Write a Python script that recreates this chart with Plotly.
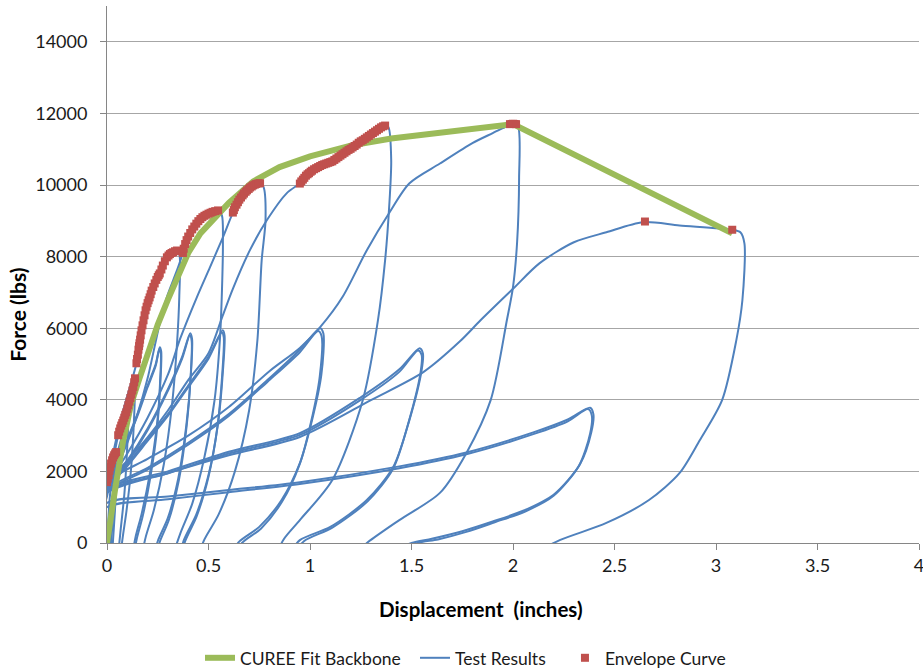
import plotly.graph_objects as go

# ---------------------------------------------------------------------------
# CUREE fit backbone (displacement in inches, force in lbs)
# ---------------------------------------------------------------------------
backbone_disp = [0, 0.02, 0.04, 0.08, 0.12, 0.16, 0.2, 0.25, 0.3, 0.35, 0.4,
                 0.46, 0.53, 0.6, 0.72, 0.85, 1.0, 1.2, 1.4, 1.7, 2.0, 3.08]
backbone_force = [0, 800, 1500, 2870, 3900, 4600, 5300, 6100, 6800, 7500, 8100,
                  8650, 9100, 9500, 10100, 10500, 10800, 11100, 11300, 11500, 11700, 8650]

# ---------------------------------------------------------------------------
# Envelope points picked from the test record
# ---------------------------------------------------------------------------
envelope_disp = [0.0, 0.004, 0.008, 0.012, 0.015, 0.02, 0.025, 0.03, 0.035, 0.04, 0.045,
                 0.055, 0.06, 0.065, 0.07, 0.075, 0.08, 0.085, 0.09, 0.095, 0.1, 0.105, 0.11,
                 0.115, 0.12, 0.125, 0.13, 0.134, 0.138,
                 0.145, 0.148, 0.152, 0.155, 0.158, 0.16, 0.163, 0.166, 0.17, 0.175, 0.18, 0.185,
                 0.19, 0.195, 0.2, 0.205, 0.21, 0.215, 0.22, 0.228, 0.235, 0.243, 0.25, 0.255,
                 0.26, 0.268, 0.275, 0.285, 0.295, 0.303, 0.31, 0.318, 0.325, 0.335, 0.345,
                 0.374, 0.378, 0.385, 0.392, 0.4, 0.41, 0.42, 0.43, 0.44, 0.45, 0.46, 0.47,
                 0.48, 0.49, 0.5, 0.51, 0.52, 0.533, 0.547,
                 0.62, 0.625, 0.63, 0.638, 0.645, 0.652, 0.66, 0.668, 0.675, 0.683, 0.69,
                 0.698, 0.705, 0.713, 0.72, 0.728, 0.735, 0.745, 0.754,
                 0.95, 0.957, 0.965, 0.972, 0.98, 0.988, 0.995, 1.003, 1.01, 1.02, 1.03, 1.04,
                 1.05, 1.06, 1.07, 1.08, 1.09, 1.1, 1.11, 1.12, 1.13, 1.14, 1.15, 1.16,
                 1.17, 1.18, 1.19, 1.2, 1.21, 1.22, 1.23, 1.24, 1.25, 1.26, 1.27, 1.28,
                 1.29, 1.3, 1.31, 1.32, 1.33, 1.34, 1.35, 1.36, 1.37,
                 1.985, 1.993, 2.0, 2.008, 2.015,
                 2.65,
                 3.08]
envelope_force = [1700, 1800, 1900, 2020, 2120, 2220, 2310, 2390, 2450, 2500, 2540,
                  3010, 3110, 3200, 3280, 3350, 3420, 3500, 3580, 3650, 3750, 3850, 3950,
                  4050, 4150, 4260, 4360, 4490, 4600,
                  5020, 5140, 5260, 5400, 5500, 5580, 5680, 5800, 5940, 6080, 6220, 6360,
                  6500, 6600, 6700, 6780, 6860, 6950, 7050, 7150, 7250, 7350, 7430, 7480,
                  7530, 7640, 7750, 7870, 7980, 8030, 8070, 8100, 8120, 8150, 8170,
                  8100, 8220, 8350, 8460, 8560, 8660, 8760, 8840, 8920, 8990, 9050, 9100,
                  9140, 9170, 9200, 9225, 9250, 9270, 9290,
                  9230, 9300, 9380, 9450, 9520, 9590, 9650, 9710, 9760, 9810, 9850,
                  9890, 9930, 9960, 9990, 10010, 10030, 10045, 10050,
                  10040, 10100, 10150, 10200, 10260, 10300, 10330, 10370, 10400, 10440, 10470, 10500,
                  10530, 10560, 10580, 10600, 10620, 10640, 10660, 10700, 10740, 10780, 10820, 10860,
                  10900, 10940, 10980, 11010, 11050, 11090, 11130, 11180, 11220, 11250, 11290, 11330,
                  11370, 11410, 11450, 11490, 11530, 11570, 11610, 11640, 11660,
                  11700, 11705, 11710, 11705, 11700,
                  8980,
                  8750]

# ---------------------------------------------------------------------------
# Cyclic test record, one list pair per cycle (positive excursions)
# ---------------------------------------------------------------------------
c01_disp = [0, 0.005, 0.012, 0.02, 0.028, 0.033, 0.031, 0.025, 0.019, 0.012]
c01_force = [0, 500, 1150, 1650, 2050, 2200, 1700, 900, 200, -600]

c02_disp = [-0.05, 0, 0.01, 0.022, 0.035, 0.05, 0.053, 0.047, 0.039, 0.03, 0.022]
c02_force = [600, 1400, 1800, 2150, 2400, 2550, 2400, 1700, 900, 100, -600]

c03_disp = [-0.05, 0, 0.015, 0.03, 0.04, 0.042, 0.037, 0.029, 0.02, 0.012]
c03_force = [500, 1300, 1850, 2200, 2380, 2250, 1500, 700, 0, -700]

c04_disp = [-0.06, 0, 0.02, 0.04, 0.055, 0.08, 0.105, 0.132, 0.137, 0.131, 0.116, 0.096, 0.076, 0.06]
c04_force = [600, 1500, 2100, 2600, 3000, 3500, 4050, 4490, 4300, 3200, 1900, 900, 100, -700]

c05_disp = [-0.07, 0, 0.03, 0.06, 0.08, 0.1, 0.104, 0.098, 0.086, 0.066, 0.05]
c05_force = [500, 1400, 2000, 2700, 3100, 3550, 3400, 2500, 1400, 300, -600]

c06_disp = [-0.08, 0, 0.03, 0.07, 0.11, 0.145, 0.17, 0.21, 0.26, 0.295, 0.345,
            0.357, 0.356, 0.346, 0.321, 0.28, 0.23, 0.19, 0.16]
c06_force = [500, 1600, 2500, 3500, 4300, 5020, 5940, 6860, 7530, 7980, 8170,
             8050, 6870, 5670, 3900, 2200, 900, 150, -700]

t026a_disp = [-0.08, 0, 0.05, 0.1, 0.15, 0.2, 0.24, 0.26, 0.267, 0.263, 0.246, 0.21, 0.17, 0.14, 0.115]
t026a_force = [400, 1500, 2200, 2900, 3600, 4400, 5000, 5470, 5350, 4500, 3300, 1900, 800, 150, -700]
t026b_disp = [-0.08, 0, 0.05, 0.1, 0.15, 0.2, 0.24, 0.258, 0.265, 0.261, 0.248, 0.214, 0.176, 0.146, 0.12]
t026b_force = [400, 1450, 2150, 2850, 3550, 4350, 4950, 5420, 5300, 4450, 3250, 1850, 750, 100, -750]

p055_disp = [-0.1, 0, 0.05, 0.1, 0.15, 0.2, 0.26, 0.295, 0.345, 0.374, 0.4, 0.44, 0.48, 0.52, 0.547,
             0.566, 0.571, 0.566, 0.556, 0.53, 0.48, 0.42, 0.36, 0.31]
p055_force = [500, 1600, 2150, 2800, 3600, 4600, 6140, 6870, 7620, 8100, 8560, 8920, 9140, 9250, 9290,
              9150, 8380, 7000, 5670, 4000, 2400, 1100, 250, -600]

t041a_disp = [-0.1, 0, 0.1, 0.2, 0.3, 0.37, 0.41, 0.419, 0.413, 0.391, 0.351, 0.3, 0.25, 0.22]
t041a_force = [400, 1550, 2300, 3200, 4300, 5200, 5860, 5700, 4700, 3300, 1800, 700, 50, -600]
t041b_disp = [-0.1, 0, 0.1, 0.2, 0.3, 0.37, 0.408, 0.417, 0.412, 0.392, 0.354, 0.305, 0.258, 0.228]
t041b_force = [400, 1500, 2250, 3150, 4250, 5150, 5800, 5650, 4650, 3250, 1750, 650, 0, -650]

p075_disp = [-0.1, 0, 0.1, 0.2, 0.3, 0.36, 0.443, 0.507, 0.571, 0.62, 0.66, 0.705, 0.754,
             0.771, 0.781, 0.762, 0.741, 0.7, 0.63, 0.55, 0.48, 0.44]
p075_force = [500, 1600, 2500, 3500, 4700, 5700, 6870, 7700, 8540, 9220, 9650, 9930, 10050,
              9950, 9020, 7900, 5670, 3700, 2000, 800, 100, -500]

t057a_disp = [-0.1, 0, 0.1, 0.2, 0.3, 0.4, 0.5, 0.57, 0.579, 0.571, 0.546, 0.5, 0.44, 0.38, 0.35]
t057a_force = [400, 1550, 2200, 2900, 3600, 4400, 5200, 5940, 5800, 4800, 3300, 1900, 800, 100, -500]
t057b_disp = [-0.1, 0, 0.1, 0.2, 0.3, 0.4, 0.5, 0.566, 0.575, 0.568, 0.544, 0.5, 0.442, 0.385, 0.356]
t057b_force = [400, 1500, 2150, 2850, 3550, 4350, 5150, 5880, 5750, 4750, 3250, 1850, 750, 50, -550]

p137_disp = [-0.1, 0, 0.1, 0.2, 0.3, 0.4, 0.5, 0.57, 0.62, 0.704, 0.788, 0.887, 0.95, 1.01, 1.11,
             1.21, 1.28, 1.33, 1.37, 1.386, 1.4, 1.39, 1.37, 1.335, 1.26, 1.11, 0.95, 0.87, 0.83]
p137_force = [600, 1700, 2300, 2950, 3700, 4550, 5300, 6350, 7100, 8180, 9020, 9780, 10040, 10330, 10600,
              10980, 11260, 11500, 11660, 11620, 10700, 9390, 7900, 6230, 3990, 1760, 640, 100, -400]

t105a_disp = [-0.1, 0, 0.2, 0.4, 0.6, 0.79, 0.95, 1.05, 1.066, 1.056, 1.01, 0.95, 0.86, 0.75, 0.65, 0.6]
t105a_force = [500, 1500, 2100, 2800, 3600, 4550, 5400, 6000, 5850, 4700, 3430, 2230, 1200, 450, 30, -400]
t105b_disp = [-0.1, 0, 0.2, 0.4, 0.6, 0.79, 0.95, 1.04, 1.057, 1.048, 1.005, 0.948, 0.862, 0.758, 0.665, 0.62]
t105b_force = [450, 1450, 2050, 2750, 3550, 4500, 5330, 5920, 5780, 4650, 3380, 2180, 1150, 400, 0, -450]

p200_disp = [-0.1, 0, 0.2, 0.4, 0.6, 0.8, 0.95, 1.05, 1.16, 1.28, 1.39, 1.49, 1.64, 1.8, 1.9, 1.95, 2.0,
             2.025, 2.03, 2.02, 2.0, 1.97, 1.89, 1.77, 1.64, 1.44, 1.28, 1.2]
p200_force = [600, 1700, 2350, 3000, 3800, 4800, 5450, 6030, 6870, 8180, 9220, 10050, 10600, 11170, 11450, 11590, 11700,
              11620, 10200, 8380, 7150, 6230, 3990, 2510, 1400, 640, 0, -400]

t154a_disp = [-0.1, 0, 0.3, 0.6, 0.95, 1.25, 1.44, 1.54, 1.556, 1.55, 1.49, 1.41, 1.28, 1.1, 0.95, 0.9]
t154a_force = [500, 1500, 2000, 2550, 3070, 4070, 4850, 5440, 5300, 4830, 3440, 2120, 1200, 450, 80, -300]
t154b_disp = [-0.1, 0, 0.3, 0.6, 0.95, 1.25, 1.44, 1.532, 1.55, 1.545, 1.487, 1.41, 1.285, 1.11, 0.97, 0.92]
t154b_force = [450, 1450, 1950, 2500, 3020, 4000, 4780, 5380, 5250, 4780, 3400, 2080, 1170, 430, 50, -320]

p308_disp = [-0.1, 0, 0.3, 0.6, 0.95, 1.3, 1.56, 1.74, 1.84, 2.0, 2.13, 2.3, 2.46, 2.64, 2.82, 3.08,
             3.12, 3.14, 3.13, 3.1, 3.03, 2.92, 2.82, 2.67, 2.46, 2.23, 2.1]
p308_force = [500, 1400, 1950, 2450, 2960, 3990, 4780, 5640, 6220, 7100, 7810, 8400, 8680, 8960, 8870, 8750,
              8680, 8370, 6780, 5660, 3990, 2870, 1950, 1200, 560, 80, -300]

t238a_disp = [-0.1, 0, 0.3, 0.6, 0.95, 1.44, 1.77, 2.1, 2.27, 2.38,
              2.396, 2.386, 2.33, 2.2, 2.05, 1.9, 1.75, 1.6, 1.5, 1.4]
t238a_force = [300, 1120, 1300, 1480, 1700, 2140, 2530, 3090, 3450, 3780,
               3600, 3100, 2200, 1350, 900, 600, 330, 120, 0, -250]
t238b_disp = [-0.1, 0, 0.3, 0.6, 0.95, 1.44, 1.77, 2.1, 2.27, 2.37,
              2.388, 2.38, 2.325, 2.2, 2.06, 1.91, 1.77, 1.63, 1.53, 1.43]
t238b_force = [250, 1000, 1220, 1420, 1650, 2090, 2480, 3040, 3400, 3740,
               3570, 3060, 2160, 1320, 880, 580, 310, 100, 0, -260]

test_cycles = [
    (c01_disp, c01_force), (c02_disp, c02_force), (c03_disp, c03_force),
    (c04_disp, c04_force), (c05_disp, c05_force), (c06_disp, c06_force),
    (t026a_disp, t026a_force), (t026b_disp, t026b_force),
    (p055_disp, p055_force), (t041a_disp, t041a_force), (t041b_disp, t041b_force),
    (p075_disp, p075_force), (t057a_disp, t057a_force), (t057b_disp, t057b_force),
    (p137_disp, p137_force), (t105a_disp, t105a_force), (t105b_disp, t105b_force),
    (p200_disp, p200_force), (t154a_disp, t154a_force), (t154b_disp, t154b_force),
    (p308_disp, p308_force), (t238a_disp, t238a_force), (t238b_disp, t238b_force),
]

test_disp, test_force = [], []
for d, f in test_cycles:
    test_disp += d + [None]
    test_force += f + [None]

# ---------------------------------------------------------------------------
# Axis ticks
# ---------------------------------------------------------------------------
x_ticks = [0, 0.5, 1, 1.5, 2, 2.5, 3, 3.5, 4]
y_ticks = [0, 2000, 4000, 6000, 8000, 10000, 12000, 14000]

FONT = "Lato, 'Open Sans', sans-serif"
GREEN = "#9BBB59"
BLUE = "#4F81BD"
RED = "#C0504D"
TEXT = "#1a1a1a"

fig = go.Figure()

fig.add_trace(go.Scatter(
    x=test_disp, y=test_force, mode="lines", name="Test Results",
    line=dict(color=BLUE, width=2, shape="spline", smoothing=0.8),
    connectgaps=False, legend="legend2",
))
fig.add_trace(go.Scatter(
    x=backbone_disp, y=backbone_force, mode="lines", name="CUREE Fit Backbone",
    line=dict(color=GREEN, width=6, shape="linear"), legend="legend",
))
fig.add_trace(go.Scatter(
    x=envelope_disp, y=envelope_force, mode="markers", name="Envelope Curve",
    marker=dict(symbol="square", size=8, color=RED, line=dict(width=0)),
    legend="legend3",
))


def legend_box(x_paper):
    return dict(orientation="h", x=x_paper, xanchor="left", y=-0.214, yanchor="middle",
                font=dict(family=FONT, size=17.5, color=TEXT),
                bgcolor="rgba(0,0,0,0)", itemwidth=30)


fig.update_layout(
    width=923, height=670,
    margin=dict(l=107, r=4, t=6, b=127, autoexpand=False),
    paper_bgcolor="white", plot_bgcolor="white",
    font=dict(family=FONT, size=17, color=TEXT),
    showlegend=True,
    legend=legend_box(0.1145),
    legend2=legend_box(0.3793),
    legend3=legend_box(0.564),
    xaxis=dict(range=[0, 4], tickvals=x_ticks, ticktext=[str(v) for v in x_ticks],
               showgrid=False, zeroline=False, showline=True, linecolor="#868686", linewidth=1,
               ticks="outside", ticklen=6, tickcolor="#868686", ticklabeloverflow="allow",
               tickfont=dict(family=FONT, size=18, color=TEXT)),
    yaxis=dict(range=[0, 15000], tickvals=y_ticks, tickformat="d",
               showgrid=True, gridcolor="#A6A6A6", gridwidth=1,
               zeroline=False, showline=True, linecolor="#868686", linewidth=1,
               ticks="outside", ticklen=6, tickcolor="#868686", ticklabelstandoff=9,
               tickfont=dict(family=FONT, size=18, color=TEXT)),
    annotations=[
        dict(text="<b>Displacement  (inches)</b>", xref="paper", yref="paper",
             x=0.4606, y=-0.1229, xanchor="center", yanchor="middle", showarrow=False,
             font=dict(family=FONT, size=20.5, color="#000000")),
        dict(text="<b>Force (lbs)</b>", xref="paper", yref="paper", textangle=-90,
             x=-0.1096, y=0.425, xanchor="center", yanchor="middle", showarrow=False,
             font=dict(family=FONT, size=21, color="#000000")),
    ],
)

fig.write_html("out.html")
